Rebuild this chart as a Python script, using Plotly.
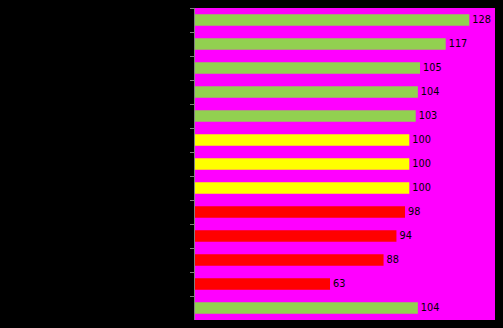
import plotly.graph_objects as go

categories = [f"C{i}" for i in range(1, 14)]
values = [128, 117, 105, 104, 103, 100, 100, 100, 98, 94, 88, 63, 104]
colors = ["#92D050"] * 5 + ["#FFFF00"] * 3 + ["#FF0000"] * 4 + ["#92D050"]

fig = go.Figure(go.Bar(
    x=values, y=categories, orientation="h",
    marker=dict(color=colors, line=dict(width=0)),
    text=[str(v) for v in values], textposition="outside",
    textfont=dict(family="DejaVu Sans", size=11, color="#000000"),
    cliponaxis=False,
))

fig.update_layout(
    width=503, height=328,
    margin=dict(l=195, r=8, t=8, b=8),
    paper_bgcolor="#000000", plot_bgcolor="#FF00FF",
    bargap=0.52, showlegend=False,
    xaxis=dict(range=[0, 140], showgrid=False, showticklabels=False, zeroline=False,
               ticks="", showline=False, fixedrange=True),
    yaxis=dict(autorange="reversed", showgrid=False, showticklabels=False,
               ticks="outside", ticklen=4, tickcolor="#808080", tickson="boundaries",
               showline=True, linecolor="#808080", linewidth=1, zeroline=False),
)

fig.write_html("out.html")
